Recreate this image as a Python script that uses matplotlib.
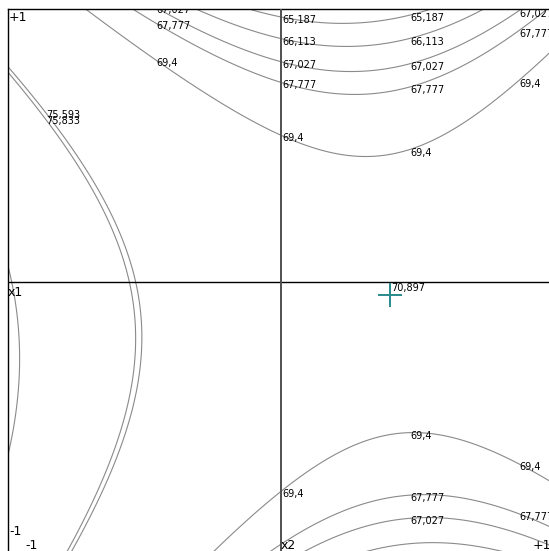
import numpy as np
import matplotlib.pyplot as plt

# fitted response surface y = b0 + b2*x2 + b1*x1 + b22*x2^2 + b11*x1^2 + b12*x1*x2
# (x2 horizontal, x1 vertical), coefficients
b0 = 71.7068
b1 = -1.2837
b2 = -4.3377
b11 = -5.5957
b22 = 5.5639
b12 = 1.9349

levels = [65.187, 66.113, 67.027, 67.777, 69.4, 75.593, 75.833, 81.4]
stat_value = 70.897

# contour labels: level, x2 column where it sits, upper/lower branch
lbl_level = [67.027, 67.777, 69.4,
             65.187, 66.113, 67.027, 67.777, 69.4,
             65.187, 66.113, 67.027, 67.777, 69.4,
             67.027, 67.777, 69.4,
             69.4,
             69.4, 67.777, 67.027,
             69.4, 67.777,
             75.593, 75.833]
lbl_col = [-0.46, -0.46, -0.46,
           0.0, 0.0, 0.0, 0.0, 0.0,
           0.47, 0.47, 0.47, 0.47, 0.47,
           0.87, 0.87, 0.87,
           0.0,
           0.47, 0.47, 0.47,
           0.87, 0.87,
           -0.865, -0.865]
lbl_side = ['up'] * 16 + ['down'] * 6 + ['up', 'up']


def surface(x2, x1):
    return b0 + b2 * x2 + b1 * x1 + b22 * x2 ** 2 + b11 * x1 ** 2 + b12 * x1 * x2


def fmt(v):
    return ('%g' % v).replace('.', ',')


fig = plt.figure(figsize=(5.49, 5.51), dpi=100)
# plot square is [-1,1]x[-1,1]; right and bottom edges fall outside the picture
ax = fig.add_axes([8 / 549, -4 / 551, 546 / 549, 546 / 551])

g = np.linspace(-1, 1, 500)
X2, X1 = np.meshgrid(g, g)
Y = surface(X2, X1)
ax.contour(X2, X1, Y, levels=levels, colors='#8a8a8a', linewidths=0.8)

ax.axhline(0, color='black', lw=1, zorder=3)
ax.axvline(0, color='#505050', lw=1.4, zorder=3)

# labels where each contour crosses its column
for lev, c, side in zip(lbl_level, lbl_col, lbl_side):
    qa = b11
    qb = b1 + b12 * c
    qc = b0 + b2 * c + b22 * c * c - lev
    d = np.sqrt(qb * qb - 4 * qa * qc)
    roots = sorted([(-qb + d) / (2 * qa), (-qb - d) / (2 * qa)])
    r = roots[1] if side == 'up' else roots[0]
    ax.annotate(fmt(lev), xy=(c, r), xytext=(1, 2), textcoords='offset pixels',
                ha='left', va='top', fontsize=7, color='black', clip_on=True,
                annotation_clip=False, zorder=4)

# stationary point
M = np.array([[2 * b22, b12], [b12, 2 * b11]])
s2, s1 = np.linalg.solve(M, [-b2, -b1])
ax.plot(s2, s1, marker='+', color='#2a8a8c', ms=17, mew=1.4, zorder=5)
ax.annotate(fmt(stat_value), xy=(s2, s1), xytext=(2, 12), textcoords='offset pixels',
            ha='left', va='top', fontsize=7, color='black', zorder=5)

# axis annotations
kw = dict(textcoords='offset pixels', fontsize=9, color='black', annotation_clip=False)
ax.annotate('+1', xy=(-1, 1), xytext=(1, -2), ha='left', va='top', **kw)
ax.annotate('x1', xy=(-1, 0), xytext=(0, -4), ha='left', va='top', **kw)
ax.annotate('-1', xy=(-1, -1), xytext=(1, 17), ha='left', va='bottom', **kw)
ax.annotate('-1', xy=(-1, -1), xytext=(17, 3), ha='left', va='bottom', **kw)
ax.annotate('x2', xy=(0, -1), xytext=(0, 3), ha='left', va='bottom', **kw)
ax.annotate('+1', xy=(1, -1), xytext=(-21, 3), ha='left', va='bottom', **kw)

ax.set_xlim(-1, 1)
ax.set_ylim(-1, 1)
ax.set_xticks([])
ax.set_yticks([])
for sp in ax.spines.values():
    sp.set_color('black')
    sp.set_linewidth(1)

fig.savefig('out.png', dpi=100)
